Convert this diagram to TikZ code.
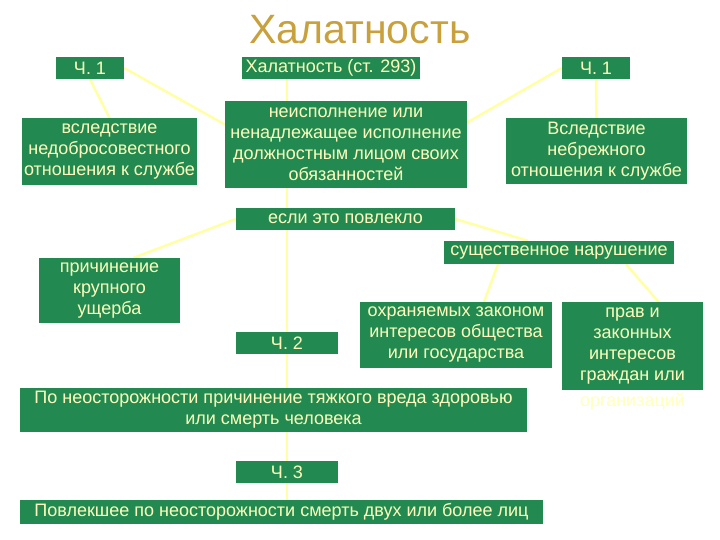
\documentclass[tikz,border=0pt]{standalone}
\usepackage{fontspec}
\setmainfont{Liberation Sans}
\usetikzlibrary{positioning, calc, backgrounds}
\definecolor{boxgreen}{RGB}{34, 138, 80}
\definecolor{txtyellow}{RGB}{255, 255, 190}
\definecolor{lineyellow}{RGB}{255, 255, 165}
\definecolor{titlegold}{RGB}{200, 160, 60}

\begin{document}
\begin{tikzpicture}[x=1pt, y=-1pt,
        blk/.style={fill=boxgreen, text=txtyellow, font=\fontsize{18}{21}\selectfont, align=center, inner sep=0pt},
        conn/.style={lineyellow, line width=2.5pt}
      ]
        \useasboundingbox (0,0) rectangle (720,540);
        \node[font=\fontsize{41}{44}\selectfont, text=titlegold] (title) at (360,30) {Халатность};
        % top row
        \node[blk, minimum width=68pt, minimum height=22pt] (ch1a) at (90,68) {Ч. 1};
        \node[blk, minimum width=178pt, minimum height=22pt] (hal) at (331,68) {Халатность (ст. 293)};
        \node[blk, minimum width=68pt, minimum height=22pt] (ch1b) at (596,68) {Ч. 1};
        \node[blk, minimum width=175pt, minimum height=67pt] (vsl) at (109.5,151.5) {вследствие\\недобросовестного\\отношения к службе};
        \node[blk, minimum width=242pt, minimum height=87pt] (neisp) at (346,144.5) {неисполнение или\\ненадлежащее исполнение\\должностным лицом своих\\обязанностей};
        \node[blk, minimum width=181pt, minimum height=66pt] (nebr) at (596.5,151) {Вследствие\\небрежного\\отношения к службе};
        % consequences
        \node[blk, minimum width=219pt, minimum height=22pt] (esli) at (345.5,219) {если это повлекло};
        \node[blk, minimum width=230pt, minimum height=23pt] (sush) at (559,252.5) {существенное нарушение};
        \node[blk, minimum width=141pt, minimum height=65pt] (prich) at (109.5,290.5) {причинение\\крупного\\ущерба};
        \node[blk, minimum width=102pt, minimum height=22pt] (ch2) at (287,343) {Ч. 2};
        \node[blk, minimum width=192pt, minimum height=66pt] (ohr) at (456,335) {охраняемых законом\\интересов общества\\или государства};
        \node[blk, minimum width=141pt, minimum height=88pt] (prav) at (632.5,346) {прав и\\законных\\интересов\\граждан или};
        \node[text=txtyellow, font=\fontsize{18}{21}\selectfont, inner sep=0pt] (org) at (632.5,402) {организаций};
        \node[blk, minimum width=507pt, minimum height=44pt] (pon) at (273.5,410) {По неосторожности причинение тяжкого вреда здоровью\\или смерть человека};
        \node[blk, minimum width=102pt, minimum height=22pt] (ch3) at (287,472) {Ч. 3};
        \node[blk, minimum width=523pt, minimum height=24pt] (povl) at (281.5,512) {Повлекшее по неосторожности смерть двух или более лиц};
        % connectors behind the boxes
        \begin{pgfonlayer}{background}
          \draw[conn] (hal.south -| ch3) -- (povl.north -| ch3);
          \draw[conn] (ch1a.south) -- (vsl.north);
          \draw[conn] (ch1a.east) -- ([yshift=20pt]neisp.west);
          \draw[conn] (ch1b.west) -- ([yshift=22pt]neisp.east);
          \draw[conn] (ch1b.south) -- (nebr.north);
          \draw[conn] (esli.west) -- ([xshift=24pt]prich.north);
          \draw[conn] (esli.east) -- ([xshift=-31pt]sush.north);
          \draw[conn] ([xshift=-61pt]sush.south) -- ([xshift=28pt]ohr.north);
          \draw[conn] ([xshift=67pt]sush.south) -- ([xshift=26pt]prav.north);
        \end{pgfonlayer}
      \end{tikzpicture}
\end{document}
